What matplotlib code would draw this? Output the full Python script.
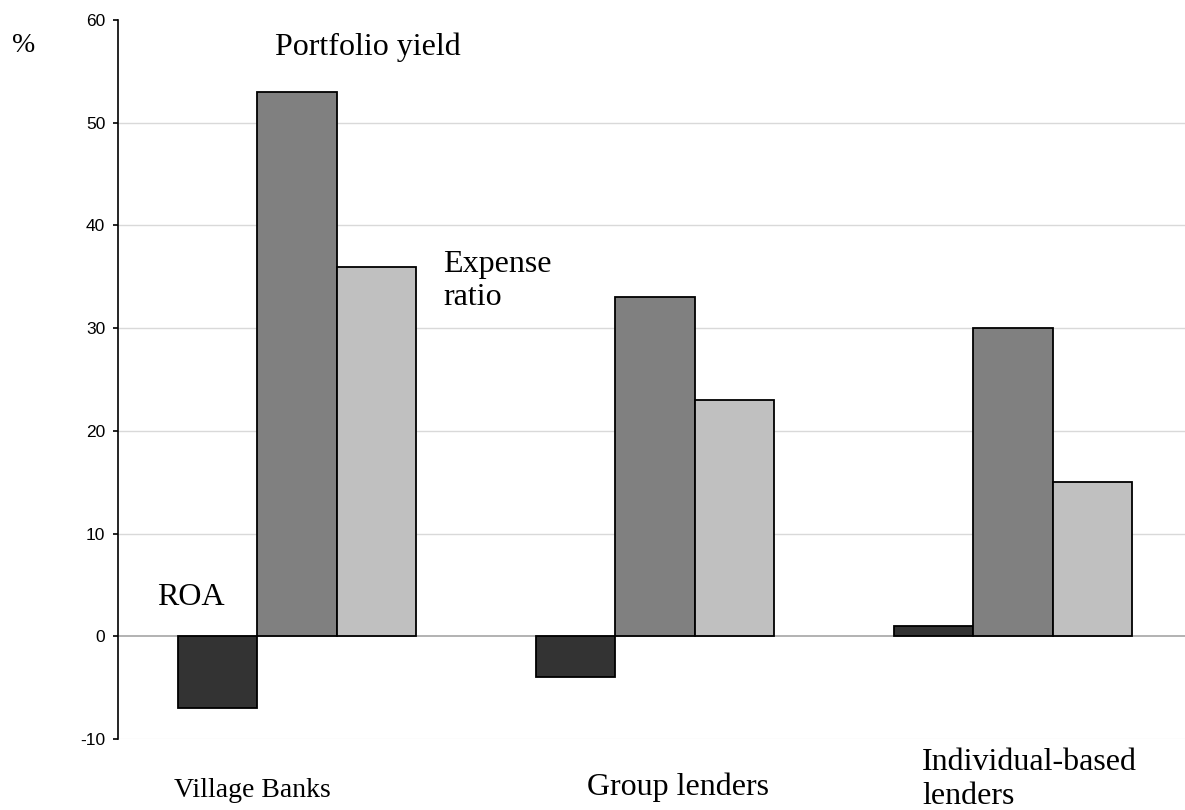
import matplotlib
matplotlib.use("Agg")
import matplotlib.pyplot as plt
import numpy as np

categories = ["Village Banks", "Group lenders", "Individual-based\nlenders"]
series_names = ["ROA", "Portfolio yield", "Expense\nratio"]
roa = [-7, -4, 1]
portfolio_yield = [53, 33, 30]
expense_ratio = [36, 23, 15]
yticks = [-10, 0, 10, 20, 30, 40, 50, 60]

colors = ["#333333", "#808080", "#c0c0c0"]

W, H = 1185, 810
fig = plt.figure(figsize=(W / 100, H / 100), dpi=100)
ax = fig.add_axes([118 / W, 1 - 739 / H, (W - 118) / W, (739 - 20) / H])

x = np.arange(len(categories))
bw = 0.2215
for i, vals in enumerate([roa, portfolio_yield, expense_ratio]):
    ax.bar(x + (i - 1) * bw, vals, width=bw, color=colors[i],
           edgecolor="black", linewidth=1.3, zorder=3)

ax.set_ylim(-10, 60)
ax.set_xlim(-0.5, 2.48)
ax.set_yticks(yticks)
ax.set_yticklabels([str(v) for v in yticks], fontfamily="Liberation Sans", fontsize=12.5)
ax.set_xticks([])
for y in yticks[2:-1]:
    ax.axhline(y, color="#d9d9d9", lw=1, zorder=1)
ax.axhline(-10, color="#f2f2f2", lw=1, zorder=1)
ax.axhline(0, color="#a6a6a6", lw=1.2, zorder=2)
for s in ["top", "right", "bottom"]:
    ax.spines[s].set_visible(False)
ax.spines["left"].set_linewidth(1.2)
ax.tick_params(axis="y", length=3.6, width=1.2, direction="out", pad=5.5)


def ftext(px, py, s, size=23, ha="left"):
    fig.text(px / W, 1 - py / H, s, ha=ha, va="baseline",
             fontfamily="Liberation Serif", fontsize=size, color="black")


def multiline(px, py, s, step, size=23):
    for k, line in enumerate(s.split("\n")):
        ftext(px, py + k * step, line, size=size)


ftext(12, 52, "%", size=20)
ftext(275, 55, series_names[1])
multiline(443, 272, series_names[2], 33)
ftext(157, 605, series_names[0])
ftext(252, 797, categories[0], size=20, ha="center")
ftext(678, 795, categories[1], ha="center")
multiline(922, 770, categories[2], 34)

fig.savefig("out.png", dpi=100)
